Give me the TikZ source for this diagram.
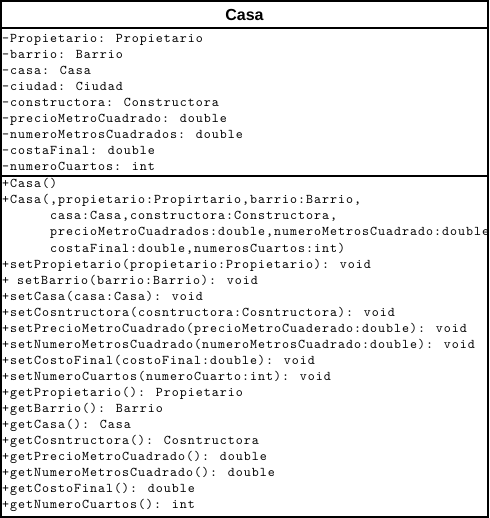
\documentclass[tikz,border=0pt]{standalone}
\usepackage{fontspec}
\newfontfamily\umono{lmmono10-regular}[Extension=.otf, LetterSpace=7.5]
\newfontfamily\usans{Liberation Sans}
\begin{document}
\begin{tikzpicture}[x=1pt,y=-1pt,
  line/.style={anchor=base west, inner sep=0pt, font=\umono\fontsize{13.33}{16}\selectfont},
  classtitle/.style={anchor=base, inner sep=0pt, font=\usans\bfseries\fontsize{16}{19}\selectfont},
  frame/.style={draw=black, line width=2pt}]
\useasboundingbox (0,0) rectangle (489,518);
\fill[white] (0,0) rectangle (489,518);
\node[classtitle] (title) at (244.5,21) {Casa};
\begin{scope}
\clip (2,2) rectangle (487,516);
% attributes
\node[line] (a1) at (2,43) {-Propietario: Propietario};
\node[line] (a2) at (2,59) {-barrio: Barrio};
\node[line] (a3) at (2,75) {-casa: Casa};
\node[line] (a4) at (2,91) {-ciudad: Ciudad};
\node[line] (a5) at (2,107) {-constructora: Constructora};
\node[line] (a6) at (2,123) {-precioMetroCuadrado: double};
\node[line] (a7) at (2,139) {-numeroMetrosCuadrados: double};
\node[line] (a8) at (2,155) {-costaFinal: double};
\node[line] (a9) at (2,171) {-numeroCuartos: int};
% methods
\node[line] (m1) at (2,188) {+Casa()};
\node[line] (m2) at (2,204) {+Casa(,propietario:Propirtario,barrio:Barrio,};
\node[line] (m3) at (50,220) {casa:Casa,constructora:Constructora,};
\node[line] (m4) at (50,236) {precioMetroCuadrados:double,numeroMetrosCuadrado:double,};
\node[line] (m5) at (50,252) {costaFinal:double,numerosCuartos:int)};
\node[line] (m6) at (2,268) {+setPropietario(propietario:Propietario): void};
\node[line] (m7) at (2,284) {+ setBarrio(barrio:Barrio): void};
\node[line] (m8) at (2,300) {+setCasa(casa:Casa): void};
\node[line] (m9) at (2,316) {+setCosntructora(cosntructora:Cosntructora): void};
\node[line] (m10) at (2,332) {+setPrecioMetroCuadrado(precioMetroCuaderado:double): void};
\node[line] (m11) at (2,348) {+setNumeroMetrosCuadrado(numeroMetrosCuadrado:double): void};
\node[line] (m12) at (2,364) {+setCostoFinal(costoFinal:double): void};
\node[line] (m13) at (2,380) {+setNumeroCuartos(numeroCuarto:int): void};
\node[line] (m14) at (2,396) {+getPropietario(): Propietario};
\node[line] (m15) at (2,412) {+getBarrio(): Barrio};
\node[line] (m16) at (2,428) {+getCasa(): Casa};
\node[line] (m17) at (2,444) {+getCosntructora(): Cosntructora};
\node[line] (m18) at (2,460) {+getPrecioMetroCuadrado(): double};
\node[line] (m19) at (2,476) {+getNumeroMetrosCuadrado(): double};
\node[line] (m20) at (2,492) {+getCostoFinal(): double};
\node[line] (m21) at (2,508) {+getNumeroCuartos(): int};
\end{scope}
% frame and separators
\coordinate (tl) at (1,1);
\coordinate (br) at (488,516.5);
\coordinate (s1l) at (1,28);
\coordinate (s1r) at (488,28);
\coordinate (s2l) at (1,176);
\coordinate (s2r) at (488,176);
\draw[frame] (tl) rectangle (br);
\draw[frame] (s1l) -- (s1r);
\draw[frame] (s2l) -- (s2r);
\end{tikzpicture}
\end{document}
